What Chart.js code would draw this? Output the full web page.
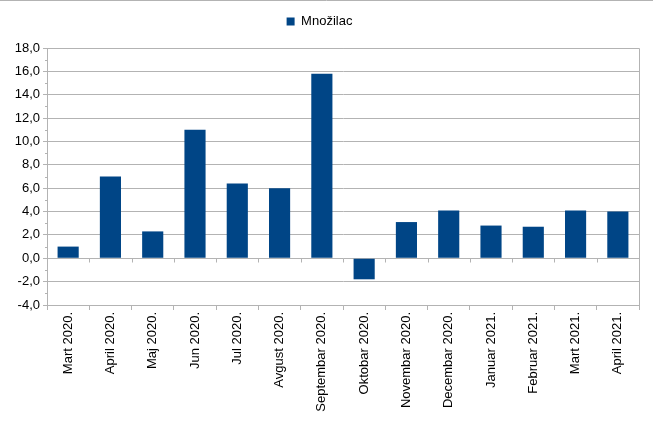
<!DOCTYPE html>
<html>
<head>
<meta charset="utf-8">
<script src="https://cdn.jsdelivr.net/npm/chart.js@4/dist/chart.umd.min.js"></script>
<style>
  html, body { margin: 0; padding: 0; background: #fff; }
  #wrap { width: 653px; height: 424px; position: relative; }
</style>
</head>
<body>
<div id="wrap"><canvas id="chart" width="653" height="424"></canvas></div>
<script>
// data
var months = ["Mart 2020.", "April 2020.", "Maj 2020.", "Jun 2020.", "Jul 2020.", "Avgust 2020.",
	"Septembar 2020.", "Oktobar 2020.", "Novembar 2020.", "Decembar 2020.", "Januar 2021.",
	"Februar 2021.", "Mart 2021.", "April 2021."];
var mnozilac = [1.0, 7.0, 2.3, 11.0, 6.4, 6.0, 15.8, -1.8, 3.1, 4.1, 2.8, 2.7, 4.1, 4.0];
var yMin = -4, yMax = 18, yStep = 2;

var gridColor = '#b3b3b3';
var barColor = '#004586';

// push the plot a bit further below the legend
var legendGap = {
	id: 'legendGap',
	beforeInit: function(chart) {
		var fit = chart.legend.fit;
		chart.legend.fit = function() {
			fit.bind(chart.legend)();
			this.height += 10;
		};
	}
};

/**
 * Plot frame, minor ticks on the y axis and small ticks on the zero line
 */
var extras = {
	id: 'extras',
	afterDraw: function(chart) {
		var ctx = chart.ctx;
		var a = chart.chartArea;
		var y = chart.scales.y;
		var x = chart.scales.x;
		ctx.save();
		ctx.strokeStyle = gridColor;
		ctx.lineWidth = 1;
		ctx.beginPath();
		ctx.moveTo(a.left, a.top + 0.5);
		ctx.lineTo(a.right + 0.5, a.top + 0.5);
		ctx.lineTo(a.right + 0.5, a.bottom);
		ctx.stroke();
		// minor ticks
		for (var v = yMin + yStep / 2; v < yMax; v += yStep) {
			var py = Math.round(y.getPixelForValue(v)) + 0.5;
			ctx.beginPath();
			ctx.moveTo(a.left - 2, py);
			ctx.lineTo(a.left, py);
			ctx.stroke();
		}
		// ticks under the zero line
		var zy = Math.round(y.getPixelForValue(0)) + 0.5;
		for (var i = 0; i <= months.length; i++) {
			var px = Math.round(x.getPixelForValue(i - 0.5)) + 0.5;
			ctx.beginPath();
			ctx.moveTo(px, zy);
			ctx.lineTo(px, zy + 4);
			ctx.stroke();
		}
		// page edge line at the top
		ctx.beginPath();
		ctx.moveTo(0, 0.5);
		ctx.lineTo(chart.width, 0.5);
		ctx.stroke();
		ctx.restore();
	}
};

var ctx = document.getElementById("chart").getContext("2d");
var chart = new Chart(ctx, {
	type: 'bar',
	data: {
		labels: months,
		datasets: [{
			label: 'Množilac',
			backgroundColor: barColor,
			borderWidth: 0,
			data: mnozilac,
			barPercentage: 0.5,
			categoryPercentage: 1.0
		}]
	},
	options: {
		responsive: false,
		animation: false,
		layout: { padding: { left: 0, right: 14, top: 5, bottom: 0 } },
		plugins: {
			legend: {
				position: 'top',
				labels: {
					color: '#000',
					font: { family: 'Liberation Sans', size: 13 },
					boxWidth: 8,
					boxHeight: 8,
					padding: 10
				}
			},
			tooltip: { enabled: false }
		},
		scales: {
			x: {
				grid: {
					offset: true,
					drawOnChartArea: false,
					drawTicks: true,
					tickLength: 5,
					color: gridColor
				},
				border: { color: gridColor },
				ticks: {
					color: '#000',
					font: { family: 'Liberation Sans', size: 13 },
					minRotation: 90,
					maxRotation: 90,
					padding: 2,
					autoSkip: false
				},
				afterFit: function(scale) { scale.height = 119; }
			},
			y: {
				min: yMin,
				max: yMax,
				grid: {
					color: gridColor,
					tickLength: 4
				},
				border: { color: gridColor },
				ticks: {
					stepSize: yStep,
					color: '#000',
					font: { family: 'Liberation Sans', size: 13 },
					padding: 3,
					callback: function(v) { return v.toFixed(1).replace('.', ','); }
				},
				afterFit: function(scale) { scale.width = 47; }
			}
		}
	},
	plugins: [legendGap, extras]
});
</script>
</body>
</html>
